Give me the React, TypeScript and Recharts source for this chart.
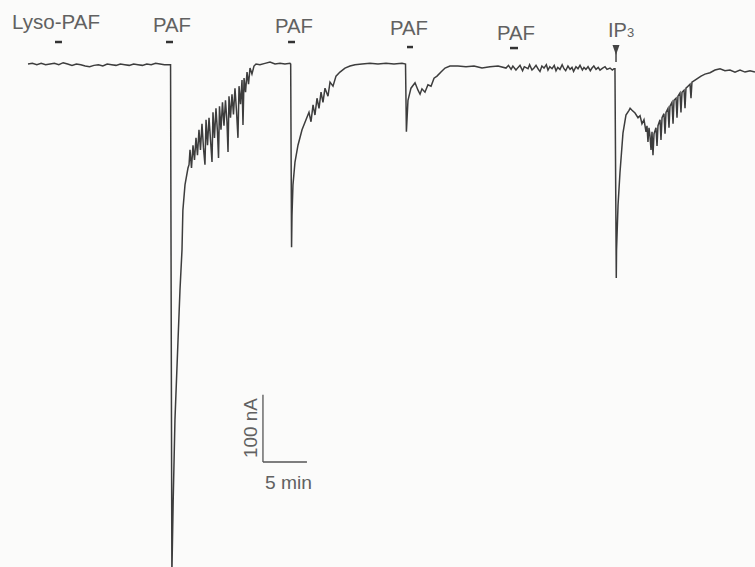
import { LineChart, Line, XAxis, YAxis, ReferenceLine } from 'recharts'

// membrane current trace, [time (min), current (nA)]
const restPhase: [number, number][] = [
  [0, 0], [0.5, 1], [1, -1], [1.5, 1], [2, -1], [2.5, 0], [3, 1], [3.5, -1], [4, 2],
  [4.5, 0], [5, -2], [5.5, 0], [6, -1], [6.5, -3], [7, -4], [7.5, -2], [8, -1], [8.5, -3],
  [9, 0], [9.5, -1], [10, -2], [10.5, 0], [11, -1], [11.5, -2], [12, 0], [12.5, -1],
  [13, -2], [13.5, 0], [14, -1], [14.5, 1], [15, 0], [15.5, -1], [16, -1], [16.2, -1],
]

const pafResponse1: [number, number][] = [
  [16.35, -760], [16.5, -650], [16.7, -530], [17.05, -411], [17.27, -337], [17.5, -277],
  [17.6, -218], [17.84, -180], [18.18, -155], [18.3, -150], [18.41, -128], [18.58, -155],
  [18.75, -121], [18.92, -143], [19.09, -110], [19.26, -136], [19.43, -98], [19.6, -128],
  [19.77, -89], [19.94, -125], [20.11, -150], [20.23, -83], [20.4, -121], [20.57, -80],
  [20.74, -113], [20.91, -146], [21.02, -72], [21.19, -110], [21.36, -66], [21.53, -101],
  [21.65, -140], [21.76, -63], [21.93, -98], [22.1, -57], [22.27, -92], [22.44, -54],
  [22.61, -86], [22.73, -131], [22.84, -48], [23.01, -80], [23.18, -45], [23.35, -75],
  [23.52, -36], [23.69, -69], [23.86, -110], [23.98, -33], [24.15, -60], [24.32, -24],
  [24.43, -91], [24.55, -21], [24.72, -42], [24.89, -12], [25.06, -30], [25.23, -6],
  [25.45, -15], [25.68, -3], [25.91, 0], [26.36, -1], [26.93, 1], [27.5, 3], [28.07, 0],
  [28.64, 1], [29.2, 0], [29.77, 1], [29.85, 0],
]

const pafResponse2: [number, number][] = [
  [29.95, -273], [30.0, -225], [30.11, -180], [30.34, -146], [30.68, -121], [31.14, -98],
  [31.59, -83], [31.93, -72], [32.16, -86], [32.39, -61], [32.61, -76], [32.84, -51],
  [33.07, -66], [33.3, -42], [33.52, -57], [33.75, -36], [34.09, -48], [34.32, -27],
  [34.66, -33], [35.0, -18], [35.45, -12], [36.02, -6], [36.59, -3], [37.16, -1],
  [37.95, 0], [38.86, 1], [39.77, 0], [40.68, 1], [41.59, 0], [42.5, 1], [42.9, 0],
]

const pafResponse3: [number, number][] = [
  [43.0, -101], [43.18, -54], [43.52, -36], [43.98, -28], [44.32, -39], [44.55, -45],
  [44.77, -37], [45.11, -42], [45.45, -31], [45.8, -33], [46.14, -21], [46.48, -18],
  [46.93, -12], [47.39, -6], [47.95, -3], [48.86, -3], [49.77, -4], [50.68, -3],
  [51.59, -6], [52.5, -4], [53.41, -3], [54.32, -6], [54.6, -2], [54.9, -8], [55.1, -3],
  [55.45, -9], [55.7, -5], [55.91, -2], [56.2, -10], [56.4, -4], [56.82, -7], [57.0, -1],
  [57.27, -9], [57.5, -6], [57.73, -2], [58.0, -8], [58.18, -11], [58.4, -3], [58.64, -6],
  [58.9, -1], [59.09, -9], [59.3, -4], [59.55, -7], [59.8, -2], [60.0, -10], [60.2, -5],
  [60.45, -8], [60.7, -1], [60.91, -7], [61.1, -10], [61.36, -3], [61.6, -8], [61.82, -5],
  [62.0, -11], [62.27, -4], [62.5, -7], [62.73, -2], [63.0, -9], [63.18, -5], [63.4, -8],
  [63.64, -4], [63.9, -10], [64.09, -6], [64.3, -3], [64.55, -8], [64.8, -5], [65.0, -9],
  [65.3, -6], [65.57, -4], [65.8, -8], [66.14, -6], [66.4, -9], [66.59, -7], [66.7, -7],
]

const ip3Response: [number, number][] = [
  [66.85, -319], [66.88, -277], [67.05, -210], [67.27, -162], [67.61, -103], [67.95, -76],
  [68.3, -69], [68.42, -66], [68.64, -69], [68.98, -73], [69.32, -80], [69.55, -77],
  [69.77, -89], [70.0, -83], [70.23, -101], [70.34, -92], [70.45, -116], [70.57, -95],
  [70.68, -107], [70.8, -128], [70.91, -101], [71.02, -136], [71.14, -104], [71.36, -95],
  [71.48, -122], [71.59, -92], [71.82, -83], [71.93, -113], [72.05, -80], [72.27, -74],
  [72.39, -104], [72.5, -72], [72.73, -66], [72.84, -95], [72.95, -63], [73.18, -57],
  [73.3, -89], [73.41, -54], [73.64, -51], [73.75, -80], [73.86, -48], [74.09, -43],
  [74.2, -72], [74.32, -42], [74.55, -39], [74.66, -66], [74.77, -36], [75.0, -33],
  [75.23, -30], [75.34, -51], [75.45, -27], [75.8, -24], [76.14, -21], [76.48, -18],
  [76.93, -15], [77.5, -13], [78.07, -9], [78.64, -7], [79.2, -10], [79.77, -9],
  [80.34, -12], [80.91, -9], [81.48, -12], [82.05, -10], [82.61, -12],
]

// application bars: [start min, end min, level nA]
const stimBars: [number, number, number][] = [
  [3.07, 3.86, 32.8],
  [15.68, 16.48, 32.8],
  [29.55, 30.34, 32.8],
  [43.07, 43.75, 25.3],
  [54.77, 55.68, 23.8],
]
const stimLabels = ['Lyso-PAF', 'PAF', 'PAF', 'PAF', 'PAF']

const trace = [...restPhase, ...pafResponse1, ...pafResponse2, ...pafResponse3, ...ip3Response].map(
  ([t, i]) => ({ t, i }),
)

const W = 755
const H = 567
const ink = '#3d3d3d'
const textColor = '#616161'
const font = '"Liberation Sans", Arial, sans-serif'

export default function App() {
  return (
    <div style={{ position: 'absolute', left: 0, top: 0, width: W, height: H, background: '#fbfbfa' }}>
      <LineChart width={W} height={H} data={trace} margin={{ top: 0, right: 0, bottom: 0, left: 0 }}>
        <XAxis dataKey="t" type="number" domain={[-3.1818, 82.614]} hide allowDataOverflow />
        <YAxis type="number" domain={[-749.5, 95.4]} hide width={0} allowDataOverflow />
        {stimBars.map(([a, b, y], k) => (
          <ReferenceLine
            key={k}
            segment={[{ x: a, y }, { x: b, y }]}
            stroke="#333"
            strokeWidth={2.5}
            ifOverflow="visible"
          />
        ))}
        {/* IP3 injection marker stem */}
        <ReferenceLine segment={[{ x: 66.82, y: 20.9 }, { x: 66.82, y: 3 }]} stroke="#444" strokeWidth={1.5} />
        {/* scale bar: 100 nA / 5 min */}
        <ReferenceLine segment={[{ x: 26.7, y: -493 }, { x: 26.7, y: -593 }]} stroke="#555" strokeWidth={1.3} />
        <ReferenceLine segment={[{ x: 26.7, y: -593 }, { x: 31.7, y: -593 }]} stroke="#555" strokeWidth={1.3} />
        <Line
          type="linear"
          dataKey="i"
          stroke={ink}
          strokeWidth={1.5}
          dot={false}
          activeDot={false}
          isAnimationActive={false}
        />
      </LineChart>
      <svg width={W} height={H} style={{ position: 'absolute', left: 0, top: 0, pointerEvents: 'none' }}>
        <g fill={textColor} fontFamily={font} fontSize={20}>
          <text x={12} y={29} textLength={88} lengthAdjust="spacingAndGlyphs">{stimLabels[0]}</text>
          <text x={153} y={32} textLength={38} lengthAdjust="spacingAndGlyphs">{stimLabels[1]}</text>
          <text x={275} y={33} textLength={38} lengthAdjust="spacingAndGlyphs">{stimLabels[2]}</text>
          <text x={390} y={35} textLength={38} lengthAdjust="spacingAndGlyphs">{stimLabels[3]}</text>
          <text x={497} y={40} textLength={38} lengthAdjust="spacingAndGlyphs">{stimLabels[4]}</text>
          <text x={608} y={37}>
            IP<tspan fontSize={13}>3</tspan>
          </text>
          <text x={265} y={489} fontSize={18} textLength={47} lengthAdjust="spacingAndGlyphs">5 min</text>
          <text
            x={0}
            y={0}
            fontSize={18}
            textLength={60}
            lengthAdjust="spacingAndGlyphs"
            transform="translate(257 458) rotate(-90)"
          >
            100 nA
          </text>
        </g>
        <path d="M612.5 45 L619.5 45 L616 55 Z" fill="#444" />
      </svg>
    </div>
  )
}
